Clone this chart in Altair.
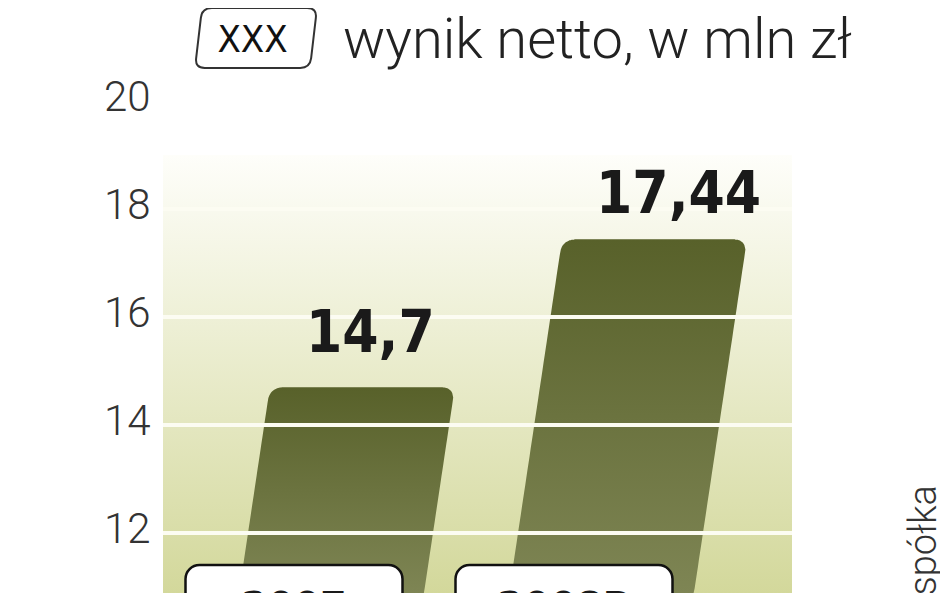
import altair as alt
import pandas as pd
import numpy as np

# ---------------- data ----------------
categories = ["2007", "2008P"]
values = [14.7, 17.44]
value_labels = ["14,7", "17,44"]
y_ticks = [12, 14, 16, 18, 20]
grid_values = [12, 14, 16, 18]
title_text = "wynik netto, w mln zł"
legend_text = "XXX"
source_text = "Źródło: spółka"

# ---------------- layout ----------------
PX = 54.0                 # pixels per y unit
Y_MAX = 20.0
PLOT_H = 492
PLOT_W = 780
Y_MIN = Y_MAX - PLOT_H / PX
BG_TOP = 19.0
BG_X0, BG_X1 = 3, 632
BAR_X0, BAR_STEP, BAR_W = 79, 270, 185
SLOPE = 0.15              # horizontal px per vertical px of the slanted edges
R = 12                    # top corner radius px
LABEL_OFF = [(8, 35), (24, 26)]   # (dx px, dy px) for value labels
BOX_DX, BOX_HALF = 55, 108.5
BOX_TOP_PX = 464
BOX_TEXT_PX = 521

x_scale = alt.Scale(domain=[0, PLOT_W], range=[0, PLOT_W], nice=False, zero=False)
y_scale = alt.Scale(domain=[Y_MIN, Y_MAX], nice=False, zero=False)
y_axis = alt.Axis(values=y_ticks, title=None, domain=False, ticks=False, grid=False,
                  labelFont="Roboto", labelFontWeight=300, labelFontSize=42,
                  labelColor="#333333", labelPadding=10, labelOffset=-4, format="d")


def X(f):
    return alt.X(f, type="quantitative", scale=x_scale, axis=None)


def Y(f):
    return alt.Y(f, type="quantitative", scale=y_scale, axis=y_axis, stack=None)


# background
bg_df = pd.DataFrame({"x": [BG_X0], "x2": [BG_X1], "y": [BG_TOP], "y2": [Y_MIN]})
bg_grad = alt.Gradient(gradient="linear",
                       stops=[alt.GradientStop(color="#fefefa", offset=0),
                              alt.GradientStop(color="#d3d89b", offset=1)],
                       x1=0, x2=0, y1=0, y2=1)
background = alt.Chart(bg_df).mark_rect(color=bg_grad, clip=True).encode(
    x=X("x"), x2="x2", y=Y("y"), y2="y2")

# bars: slanted shapes with rounded top corners, swept along x
rows = []
for i, (c, v) in enumerate(zip(categories, values)):
    xl_b = BAR_X0 + BAR_STEP * i
    h = (v - Y_MIN) * PX
    yp = np.linspace(0, h, 800)
    d = h - yp
    inset = np.where(d < R, R - np.sqrt(np.clip(R ** 2 - (R - d) ** 2, 0, None)), 0.0)
    left = xl_b + SLOPE * yp + inset
    right = xl_b + BAR_W + SLOPE * yp - inset
    for xx in np.linspace(left.min(), right.max(), 220):
        inside = (left <= xx) & (xx <= right)
        if not inside.any():
            continue
        rows.append({"bar": c, "x": float(xx),
                     "y": Y_MIN + yp[inside].max() / PX,
                     "y2": Y_MIN + yp[inside].min() / PX})
bar_df = pd.DataFrame(rows)
bar_grad = alt.Gradient(gradient="linear",
                        stops=[alt.GradientStop(color="#58612a", offset=0),
                               alt.GradientStop(color="#7e8554", offset=1)],
                        x1=0, x2=0, y1=0, y2=1)
bars = alt.Chart(bar_df).mark_area(orient="vertical", color=bar_grad, clip=True).encode(
    x=X("x"), y=Y("y"), y2="y2", detail="bar:N")

# grid lines
grid_df = pd.DataFrame({"y": grid_values, "x": [BG_X0] * len(grid_values),
                        "x2": [BG_X1] * len(grid_values)})
grid = alt.Chart(grid_df).mark_rule(color="#fcfcf2", strokeWidth=4).encode(
    y=Y("y"), x=X("x"), x2="x2")

# value labels
lab_rows = []
for i, (v, t) in enumerate(zip(values, value_labels)):
    top_center = BAR_X0 + BAR_STEP * i + SLOPE * PX * (v - Y_MIN) + BAR_W / 2
    lab_rows.append({"x": top_center + LABEL_OFF[i][0], "y": v + LABEL_OFF[i][1] / PX, "t": t})
lab_df = pd.DataFrame(lab_rows)
labels = alt.Chart(lab_df).mark_text(
    font="DejaVu Sans Condensed, Liberation Sans Narrow, sans-serif", fontWeight="bold",
    fontSize=58, align="center", baseline="alphabetic", color="#1a1a1a").encode(
    x=X("x"), y=Y("y"), text="t:N")

# category boxes at the bottom
box_rows = []
for i, c in enumerate(categories):
    cx = BAR_X0 + BAR_STEP * i + BOX_DX
    box_rows.append({"x": cx - BOX_HALF, "x2": cx + BOX_HALF, "cx": cx,
                     "y": Y_MAX - BOX_TOP_PX / PX, "y2": Y_MIN - 1,
                     "ty": Y_MAX - BOX_TEXT_PX / PX, "c": c})
box_df = pd.DataFrame(box_rows)
boxes = alt.Chart(box_df).mark_rect(fill="white", stroke="#111111", strokeWidth=2.5,
                                    cornerRadius=14, clip=True).encode(
    x=X("x"), x2="x2", y=Y("y"), y2="y2")
box_text = alt.Chart(box_df).mark_text(
    font="DejaVu Sans Condensed, sans-serif", fontWeight="bold",
    fontSize=42, align="center", baseline="alphabetic", color="#1a1a1a", clip=True).encode(
    x=X("cx"), y=Y("ty"), text="c:N")

# header: legend box + title
box_path = ("M -0.725 -0.49 L 0.84 -0.49 Q 1.0 -0.49 0.981 -0.331 L 0.904 0.331 "
            "Q 0.885 0.49 0.725 0.49 L -0.84 0.49 Q -1.0 0.49 -0.981 0.331 "
            "L -0.904 -0.331 Q -0.885 -0.49 -0.725 -0.49 Z")
hdr_df = pd.DataFrame({"t": [legend_text]})
legend_box = alt.Chart(hdr_df).mark_point(shape=box_path, size=122 ** 2, filled=False,
                                          stroke="#333333", strokeWidth=2, opacity=1).encode(
    x=alt.value(96), y=alt.value(-63))
legend_lbl = alt.Chart(hdr_df).mark_text(
    font="DejaVu Sans Condensed, sans-serif", fontSize=38, fontWeight=500,
    align="center", baseline="alphabetic", color="#111111").encode(
    x=alt.value(92.5), y=alt.value(-49), text="t:N")
title_df = pd.DataFrame({"t": [title_text]})
title = alt.Chart(title_df).mark_text(
    font="Roboto", fontWeight=300, fontSize=56, align="left", baseline="alphabetic",
    color="#222222").encode(x=alt.value(183), y=alt.value(-43), text="t:N")

src_df = pd.DataFrame({"t": [source_text]})
source = alt.Chart(src_df).mark_text(
    font="Roboto", fontWeight=300, fontSize=38, align="right", baseline="alphabetic",
    angle=270, color="#333333").encode(x=alt.value(776), y=alt.value(384), text="t:N")

chart = alt.layer(background, bars, grid, labels, boxes, box_text,
                  legend_box, legend_lbl, title, source).properties(
    width=PLOT_W, height=PLOT_H, autosize="none",
    padding={"left": 152, "top": 93, "right": 0, "bottom": 0},
    background="white",
).configure_view(stroke=None)

chart.save("out.html", embed_options={"renderer": "svg", "actions": False})
